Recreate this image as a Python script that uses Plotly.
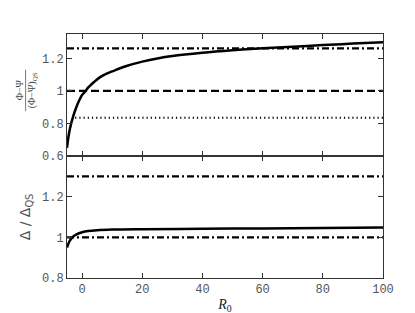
import plotly.graph_objects as go
from plotly.subplots import make_subplots

# Top panel: (Phi-Psi)/(Phi-Psi)_QS vs R0
r0_top = [-5, -4.5, -4, -3, -2, -1, 0, 1.2, 2, 4, 6, 8, 10, 15, 20, 25, 30, 40, 50, 60, 70, 80, 90, 100]
phi_ratio = [0.65, 0.72, 0.77, 0.84, 0.895, 0.94, 0.975, 1.0, 1.02, 1.055, 1.085, 1.105, 1.12, 1.155, 1.18, 1.2, 1.215, 1.235, 1.25, 1.262, 1.272, 1.282, 1.291, 1.30]

# Bottom panel: Delta/Delta_QS vs R0
r0_bot = [-5, -4.5, -4, -3, -2, -1, 0, 2, 5, 10, 20, 40, 60, 80, 100]
delta_ratio = [0.95, 0.97, 0.985, 1.003, 1.013, 1.02, 1.025, 1.031, 1.035, 1.038, 1.04, 1.042, 1.044, 1.046, 1.048]

# Reference levels
top_dashdot = 1.262
top_dashed = 1.0
top_dotted = 0.835
bot_dashdot_hi = 1.3
bot_dashdot_lo = 1.0

x_span = [-5, 100]
dotted_span = [-2.3, 100]

x_ticks = [0, 20, 40, 60, 80, 100]
top_yticks = [0.6, 0.8, 1.0, 1.2]
top_ytext = ["0.6", "0.8", "1", "1.2"]
bot_yticks = [0.8, 1.0, 1.2]
bot_ytext = ["0.8", "1", "1.2"]

fig = make_subplots(rows=2, cols=1, shared_xaxes=True, vertical_spacing=0.0)

black = "#000000"
dashdot = "7px,3px,2px,3px"
fig.add_trace(go.Scatter(x=x_span, y=[top_dashdot]*2, mode="lines",
                         line=dict(color=black, width=2.2, dash=dashdot)), row=1, col=1)
fig.add_trace(go.Scatter(x=x_span, y=[top_dashed]*2, mode="lines",
                         line=dict(color=black, width=2.2, dash="8px,4px")), row=1, col=1)
fig.add_trace(go.Scatter(x=dotted_span, y=[top_dotted]*2, mode="lines",
                         line=dict(color=black, width=1.8, dash="1.2px,3px")), row=1, col=1)
fig.add_trace(go.Scatter(x=r0_top, y=phi_ratio, mode="lines", line_shape="spline",
                         line=dict(color=black, width=2.5)), row=1, col=1)

fig.add_trace(go.Scatter(x=x_span, y=[bot_dashdot_hi]*2, mode="lines",
                         line=dict(color=black, width=2.2, dash=dashdot)), row=2, col=1)
fig.add_trace(go.Scatter(x=x_span, y=[bot_dashdot_lo]*2, mode="lines",
                         line=dict(color=black, width=2.2, dash=dashdot)), row=2, col=1)
fig.add_trace(go.Scatter(x=r0_bot, y=delta_ratio, mode="lines", line_shape="spline",
                         line=dict(color=black, width=2.5)), row=2, col=1)

mono = "'Liberation Mono', 'Courier New', monospace"
serif = "'Liberation Serif', 'Times New Roman', serif"
tickfont = dict(family=mono, size=12, color="#555555")
axis_common = dict(showline=True, linecolor="#333333", linewidth=1, mirror="allticks",
                   ticks="inside", ticklen=5, tickcolor="#333333", showgrid=False,
                   zeroline=False, tickfont=tickfont)

fig.update_xaxes(range=[-5, 100], tickvals=x_ticks, **axis_common)
fig.update_xaxes(showticklabels=False, row=1, col=1)
fig.update_xaxes(title=dict(text="<i>R</i><sub>0</sub>", standoff=2,
                            font=dict(family=serif, size=14, color="#222222")),
                 row=2, col=1)

fig.update_yaxes(range=[0.6, 1.35], tickvals=top_yticks, ticktext=top_ytext,
                 row=1, col=1, **axis_common)
fig.update_yaxes(range=[0.8, 1.4], tickvals=bot_yticks, ticktext=bot_ytext,
                 title=dict(text="Δ / Δ<sub>QS</sub>", standoff=8,
                            font=dict(family="'DejaVu Sans', sans-serif", size=14, color="#555555")),
                 row=2, col=1, **axis_common)

# Fraction-style y title for the top panel (numerator, bar, denominator)
frac_font = dict(family=serif, size=10, color="#444444")
fig.add_annotation(text="Φ−Ψ", xref="paper", yref="paper", x=0, y=0.769,
                   xanchor="center", yanchor="middle",
                   xshift=-48, textangle=-90, showarrow=False, font=frac_font)
fig.add_annotation(text="(Φ−Ψ)<sub>QS</sub>", xref="paper", yref="paper", x=0, y=0.769,
                   xanchor="center", yanchor="middle",
                   xshift=-35, textangle=-90, showarrow=False, font=frac_font)
fig.add_shape(type="line", xref="paper", yref="paper",
              x0=-0.131, x1=-0.131, y0=0.684, y1=0.854,
              line=dict(color="#555555", width=0.8))

fig.update_layout(width=415, height=313, showlegend=False,
                  margin=dict(l=59, r=40, t=26, b=40),
                  plot_bgcolor="white", paper_bgcolor="white")

fig.write_html("out.html")
